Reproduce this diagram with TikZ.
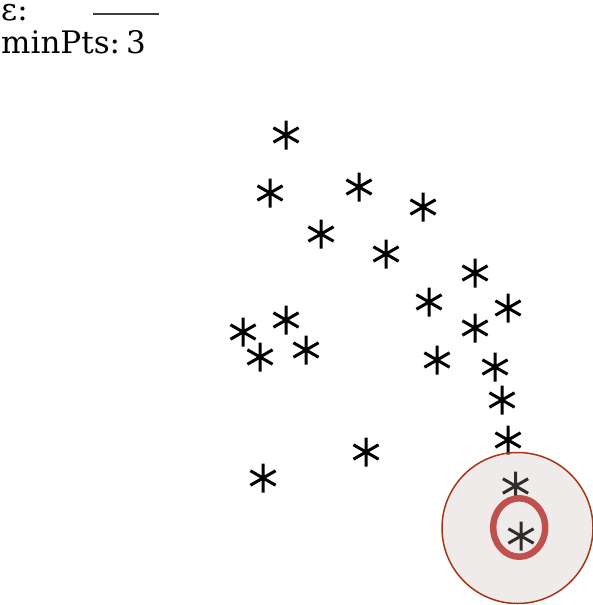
\documentclass[tikz,border=0pt]{standalone}
\usepackage{fontspec}
\setmainfont{DejaVu Serif}
\usetikzlibrary{shapes.geometric}
\definecolor{ringline}{RGB}{165,55,20}
\definecolor{ringfill}{RGB}{196,176,176}
\definecolor{markred}{RGB}{192,80,77}
\definecolor{rulegray}{RGB}{60,60,60}
\tikzset{
  astline/.style={line width=3pt, black},
  ast/.pic={\draw[astline] (0,-14.5)--(0,14.5) (-12.6,-7.25)--(12.6,7.25) (-12.6,7.25)--(12.6,-7.25);},
  lbl/.style={anchor=base west, inner sep=0pt, font=\fontsize{31}{34}\selectfont},
}
\begin{document}
\begin{tikzpicture}[x=1pt,y=-1pt]
\useasboundingbox (0,0) rectangle (593,605);
\node[lbl] (eps) at (1,20.5) {ε:};
\coordinate (r1) at (93,13.5);
\coordinate (r2) at (159,13.5);
\draw[rulegray, line width=2pt] (r1) -- (r2);
\node[lbl] (minpts) at (1,53) {minPts:\hspace{6pt}3};
\foreach \x/\y in {286/135, 270/193, 359/187, 423/207, 321/234, 386/254,
  475/273, 429/302, 508/308, 475/328, 243/332, 286/320, 260/357, 306/350,
  437/360, 495/367, 502/400, 508/440, 366/452, 263/478, 515.5/486, 521/536}
  \pic at (\x,\y) {ast};
\node[circle, minimum size=151pt, inner sep=0pt, draw=ringline, line width=1.5pt,
  fill=ringfill, fill opacity=0.255, draw opacity=1] (ring) at (517.5,528) {};
\node[ellipse, minimum width=52pt, minimum height=58.5pt, inner sep=0pt,
  draw=markred, line width=6.5pt] (core) at (519.2,527.5) {};
\end{tikzpicture}
\end{document}
